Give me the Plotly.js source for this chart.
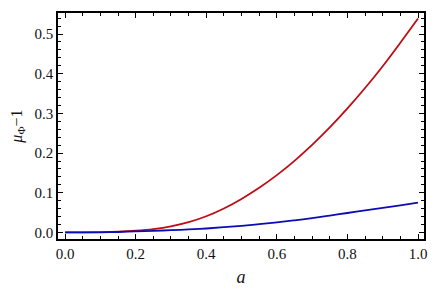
<!DOCTYPE html>
<html>
<head>
<meta charset="utf-8">
<script src="https://cdn.plot.ly/plotly-3.0.1.min.js"></script>
<style>html,body{margin:0;padding:0;background:#fff;}#plot{width:436px;height:289px;}</style>
</head>
<body>
<div id="plot"></div>
<script>
const aValues = [0, 0.05, 0.1, 0.15, 0.2, 0.25, 0.3, 0.35, 0.4, 0.45, 0.5, 0.55, 0.6, 0.65, 0.7, 0.75, 0.8, 0.85, 0.9, 0.95, 1.0];
const redValues = [0, 0.0003, 0.0009, 0.0021, 0.0045, 0.0085, 0.0153, 0.0258, 0.0408, 0.0605, 0.0845, 0.1125, 0.1445, 0.1805, 0.2205, 0.2645, 0.3125, 0.364, 0.419, 0.478, 0.539];
const blueValues = [0, 0.0001, 0.0003, 0.0012, 0.0025, 0.004, 0.0057, 0.0077, 0.0100, 0.0132, 0.0168, 0.0208, 0.0255, 0.0305, 0.0362, 0.0425, 0.0490, 0.0555, 0.0620, 0.0685, 0.075];

const traces = [
  {x: aValues, y: redValues, mode: 'lines', line: {color: 'rgb(190,12,20)', width: 1.8, shape: 'spline'}, hoverinfo: 'none'},
  {x: aValues, y: blueValues, mode: 'lines', line: {color: 'rgb(12,12,180)', width: 1.8, shape: 'spline'}, hoverinfo: 'none'}
];

const serif = 'Liberation Serif, Times New Roman, serif';
const tickFont = {family: serif, size: 15, color: '#111'};
const layout = {
  width: 436, height: 289,
  font: {family: serif, size: 15, color: '#111'},
  margin: {l: 58, r: 12, t: 13, b: 50, pad: 0},
  paper_bgcolor: '#fff', plot_bgcolor: '#fff',
  showlegend: false,
  xaxis: {
    range: [-0.02, 1.017], tickmode: 'linear', tick0: 0, dtick: 0.2, tickformat: '.1f',
    ticks: 'inside', ticklen: 5, tickwidth: 1, tickcolor: '#000',
    minor: {dtick: 0.05, ticks: 'inside', ticklen: 3, tickcolor: '#000', tickwidth: 1},
    showline: true, linecolor: '#000', linewidth: 1.8, mirror: 'ticks',
    showgrid: false, zeroline: false, tickfont: tickFont,
    title: {text: '<i>a</i>', font: {family: serif, size: 18, color: '#111'}, standoff: 10}
  },
  yaxis: {
    range: [-0.0165, 0.553], tickmode: 'linear', tick0: 0, dtick: 0.1, tickformat: '.1f',
    ticks: 'inside', ticklen: 5, tickwidth: 1, tickcolor: '#000',
    minor: {dtick: 0.02, ticks: 'inside', ticklen: 3, tickcolor: '#000', tickwidth: 1},
    showline: true, linecolor: '#000', linewidth: 1.8, mirror: 'ticks',
    showgrid: false, zeroline: false, tickfont: tickFont,
    title: {text: '<i>μ</i><sub>Φ</sub>−1', font: {family: serif, size: 16, color: '#111'}, standoff: 8}
  }
};

Plotly.newPlot('plot', traces, layout, {displayModeBar: false, staticPlot: true});
</script>
</body>
</html>
